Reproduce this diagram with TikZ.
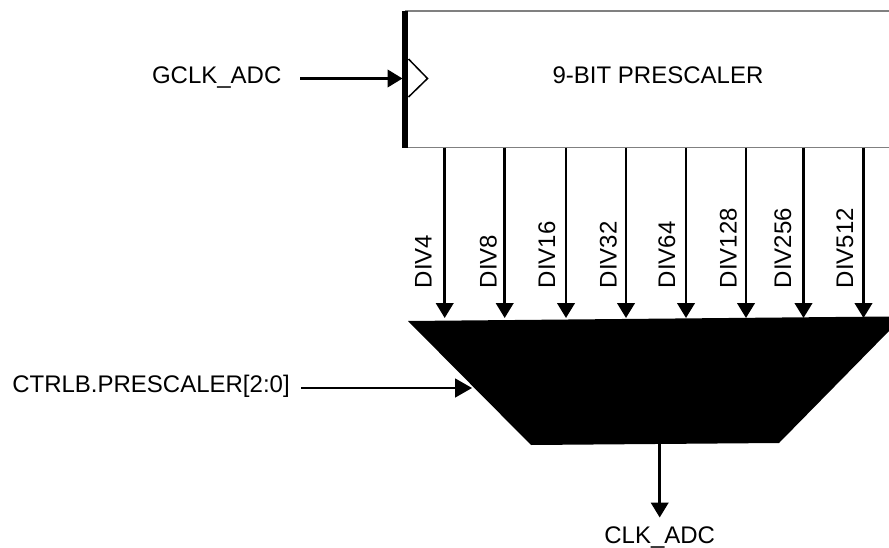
\documentclass[tikz,border=0pt]{standalone}
\usepackage{fontspec}
\setmainfont{Liberation Sans}
\usetikzlibrary{arrows.meta}
\newcommand{\adcFontSize}{24}
\tikzset{
  adc base/.style={font=\fontsize{\adcFontSize}{28}\selectfont, inner sep=0pt},
  adc arrow/.style={line width=2.6pt,-{Triangle[length=15pt,width=17.5pt]}},
  adc thin arrow/.style={line width=1.4pt,-{Triangle[length=17pt,width=19pt]}},
  adc block/.style={rectangle, minimum width=484pt, minimum height=136.5pt},
  adc edge/.style={draw=black!50, line width=1.5pt},
  adc bar/.style={line width=6.3pt},
  adc clock/.style={line width=1.5pt, fill=white},
  adc mux/.style={fill=black},
  adc div/.style={rotate=90, anchor=base west},
  adc name/.style={anchor=base},
}

\begin{document}
\begin{tikzpicture}[x=1pt, y=-1pt, adc base]
\useasboundingbox (0,0) rectangle (889,548);

\node (prescaler) [adc block] at (647,79.25) {};
\node (prescalerName) [adc name] at (658,84) {9-BIT PRESCALER};
\draw [adc edge] (prescaler.north west) -- (prescaler.north east);
\draw [adc edge] (prescaler.south west) -- (prescaler.south east);
\draw [adc bar] ([xshift=0.5pt]prescaler.north west) -- ([xshift=0.5pt]prescaler.south west);

\coordinate (clockTop) at (408.5,59);
\coordinate (clockTip) at (427.5,78.5);
\coordinate (clockLow) at (408.5,97);
\draw [adc clock] (clockTop) -- (clockTip) -- (clockLow);

\coordinate (muxNW) at (408,321);
\coordinate (muxNE) at (889,316.5);
\coordinate (muxE) at (889,331);
\coordinate (muxSE) at (779,443);
\coordinate (muxSW) at (531,445);
\fill [adc mux] (muxNW) -- (muxNE) -- (muxE) -- (muxSE) -- (muxSW) -- cycle;

\node (gclk) [adc name] at (216.7,83.5) {GCLK\_ADC};
\coordinate (gclkFrom) at (300,78.5);
\coordinate (gclkTo) at (402.5,78.5);
\draw [adc arrow] (gclkFrom) -- (gclkTo);

\node (ctrlb) [adc name] at (151,392.3) {CTRLB.PRESCALER[2:0]};
\coordinate (ctrlbFrom) at (301,388);
\coordinate (ctrlbTo) at (472,388);
\draw [adc thin arrow] (ctrlbFrom) -- (ctrlbTo);

\coordinate (tipFour) at (444.7,318);
\coordinate (tipEight) at (504.7,318);
\coordinate (tipSixteen) at (566,318);
\coordinate (tipThirtyTwo) at (626,318);
\coordinate (tipSixtyFour) at (686,318);
\coordinate (tipOneTwoEight) at (746,318);
\coordinate (tipTwoFiveSix) at (803.5,318);
\coordinate (tipFiveOneTwo) at (863.5,318);

\draw [adc arrow] (prescaler.south -| tipFour) -- (tipFour);
\draw [adc arrow] (prescaler.south -| tipEight) -- (tipEight);
\draw [adc arrow] (prescaler.south -| tipSixteen) -- (tipSixteen);
\draw [adc arrow] (prescaler.south -| tipThirtyTwo) -- (tipThirtyTwo);
\draw [adc arrow] (prescaler.south -| tipSixtyFour) -- (tipSixtyFour);
\draw [adc arrow] (prescaler.south -| tipOneTwoEight) -- (tipOneTwoEight);
\draw [adc arrow] (prescaler.south -| tipTwoFiveSix) -- (tipTwoFiveSix);
\draw [adc arrow] (prescaler.south -| tipFiveOneTwo) -- (tipFiveOneTwo);

\node (divFour) [adc div] at (431.7,288.5) {DIV4};
\node (divEight) [adc div] at (496.7,288.5) {DIV8};
\node (divSixteen) [adc div] at (555,288.5) {DIV16};
\node (divThirtyTwo) [adc div] at (616.7,288.5) {DIV32};
\node (divSixtyFour) [adc div] at (675,288.5) {DIV64};
\node (divOneTwoEight) [adc div] at (736.7,288.5) {DIV128};
\node (divTwoFiveSix) [adc div] at (791,288.5) {DIV256};
\node (divFiveOneTwo) [adc div] at (853,288.5) {DIV512};

\coordinate (outFrom) at (659.7,444);
\coordinate (outTo) at (659.7,517.5);
\draw [adc arrow] (outFrom) -- (outTo);
\node (clkadc) [adc name] at (659.7,543) {CLK\_ADC};
\end{tikzpicture}
\end{document}
